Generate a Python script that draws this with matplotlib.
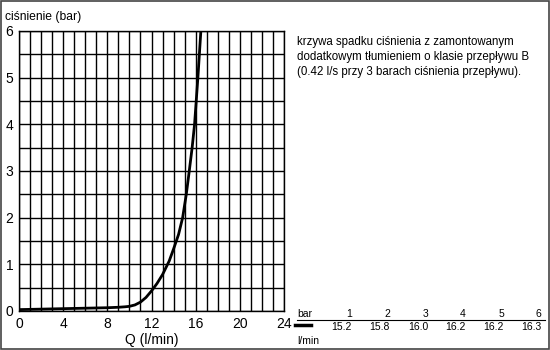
import matplotlib.pyplot as plt
from matplotlib.patches import Rectangle

plt.rcParams['font.family'] = ['Liberation Sans', 'DejaVu Sans']

# curve
flow = [0, 4, 8, 9, 9.6, 10.0, 10.5, 11.0, 11.5, 12.0, 12.5, 13.0, 13.6, 14.0, 14.45,
        14.82, 15.15, 15.42, 15.68, 15.9, 16.2, 16.47]
pressure = [0.03, 0.05, 0.07, 0.08, 0.09, 0.10, 0.13, 0.19, 0.29, 0.43, 0.59, 0.78, 1.07, 1.33, 1.64,
            2.0, 2.5, 3.0, 3.5, 4.0, 5.0, 6.0]

x_ticks = [0, 4, 8, 12, 16, 20, 24]
y_ticks = [0, 1, 2, 3, 4, 5, 6]

table_bar = ['1', '2', '3', '4', '5', '6']
table_flow = ['15.2', '15.8', '16.0', '16.2', '16.2', '16.3']

note = ('krzywa spadku ciśnienia z zamontowanym\n'
        'dodatkowym tłumieniem o klasie przepływu B\n'
        '(0.42 l/s przy 3 barach ciśnienia przepływu).')

fig = plt.figure(figsize=(5.5, 3.5), dpi=100)
ax = fig.add_axes([19/550, 1-311/350, 265/550, 280/350])

# grid: 1 l/min and 0.5 bar
for q in range(0, 25):
    ax.axvline(q, color='black', lw=1.0, zorder=1)
for b in range(0, 13):
    ax.axhline(b*0.5, color='black', lw=1.0, zorder=1)

ax.plot(flow, pressure, color='black', lw=2.0, zorder=3, solid_joinstyle='round')

ax.set_xlim(0, 24)
ax.set_ylim(0, 6)
ax.set_xticks(x_ticks)
ax.set_yticks(y_ticks)
ax.tick_params(axis='x', length=0, labelsize=10, pad=4)
ax.tick_params(axis='y', length=0, labelsize=10, pad=4)
for s in ax.spines.values():
    s.set_linewidth(1.0)

fig.text(152/550, 1-340/350, 'Q (l/min)', fontsize=10, va='center', ha='center')
fig.text(5/550, 1-17/350, 'ciśnienie (bar)', fontsize=8.7, va='center', ha='left')
fig.text(297/550, 1-57/350, note, fontsize=8.3, va='center', ha='left', linespacing=1.35)

# small table bottom right
row1 = 1-314/350
row2 = 1-327/350
fig.text(297/550, row1, 'bar', fontsize=7.5, va='center', ha='left')
fig.text(297/550, 1-341/350, 'l/min', fontsize=7.5, va='center', ha='left')
col_right = [352, 390, 428, 466, 504, 541]
for xr, b, f in zip(col_right, table_bar, table_flow):
    fig.text(xr/550, row1, b, fontsize=7.5, va='center', ha='right')
    fig.text(xr/550, row2, f, fontsize=7.5, va='center', ha='right')
fig.add_artist(plt.Line2D([297/550, 545/550], [1-320/350, 1-320/350], color='black', lw=0.8))
fig.add_artist(plt.Line2D([295/550, 311/550], [1-325/350, 1-325/350], color='black', lw=2.5))

fig.add_artist(Rectangle((0.001, 0.002), 0.997, 0.996, transform=fig.transFigure,
                         fill=False, edgecolor='#444444', lw=1.2))

fig.savefig('out.png', dpi=100)
